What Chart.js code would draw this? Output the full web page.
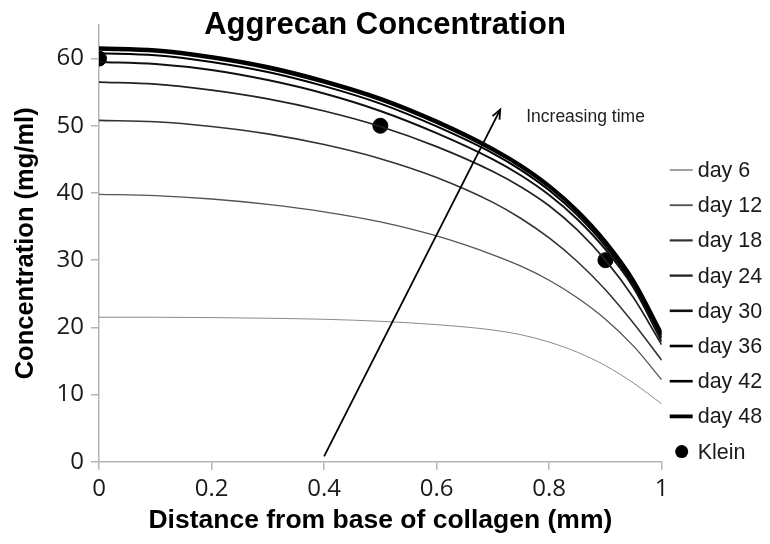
<!DOCTYPE html>
<html>
<head>
<meta charset="utf-8">
<script src="https://cdn.jsdelivr.net/npm/chart.js@4.4.1/dist/chart.umd.min.js"></script>
<style>
  html, body { margin: 0; padding: 0; background: #fff; }
  #wrap { width: 770px; height: 544px; }
</style>
</head>
<body>
<div id="wrap"><canvas id="myChart" width="770" height="544"></canvas></div>
<script>
// distance from base of collagen (mm)
const distance = [0, 0.1, 0.2, 0.3, 0.4, 0.5, 0.6, 0.7, 0.75, 0.8, 0.85, 0.9, 0.95, 1];

// concentration (mg/ml)
const day6  = [21.5, 21.5, 21.45, 21.35, 21.2, 20.9, 20.4, 19.6, 18.9, 17.8, 16.3, 14.3, 11.7, 8.6];
const day12 = [39.8, 39.6, 39.1, 38.3, 37.2, 35.7, 33.6, 30.8, 29.1, 27.0, 24.4, 21.2, 17.2, 12.2];
const day18 = [50.8, 50.6, 49.9, 48.8, 47.2, 45.1, 42.3, 38.6, 36.2, 33.3, 29.8, 25.6, 20.6, 15.1];
const day24 = [56.5, 56.2, 55.3, 54.0, 52.2, 49.9, 46.9, 43.2, 40.9, 38.1, 34.5, 30.0, 24.4, 17.4];
const day30 = [59.5, 59.2, 58.3, 56.8, 54.8, 52.2, 48.9, 45.0, 42.6, 39.7, 36.1, 31.6, 25.9, 17.9];
const day36 = [60.8, 60.5, 59.5, 58.0, 55.9, 53.3, 49.9, 45.9, 43.4, 40.4, 36.7, 32.1, 26.3, 18.4];
const day42 = [61.3, 61.0, 60.0, 58.5, 56.4, 53.8, 50.4, 46.3, 43.8, 40.8, 37.1, 32.5, 26.7, 18.8];
const day48 = [61.6, 61.3, 60.3, 58.8, 56.7, 54.1, 50.7, 46.6, 44.1, 41.1, 37.4, 32.8, 27.0, 19.1];

// Klein measurements
const kleinX = [0, 0.5, 0.9];
const kleinY = [60, 50, 30];

// arrow annotation (data units)
const arrowFrom = [0.4, 0.8];
const arrowTo = [0.713, 52.4];
const arrowText = "Increasing time";

function toPoints(xs, ys) {
    var pts = [];
    for (var i = 0; i < xs.length; i++) {
        pts.push({ x: xs[i], y: ys[i] });
    }
    return pts;
}

function curve(label, ys, color, width) {
    return {
        label: label,
        data: toPoints(distance, ys),
        borderColor: color,
        backgroundColor: color,
        borderWidth: width,
        pointRadius: 0,
        cubicInterpolationMode: "monotone",
        fill: false
    };
}

var datasets = [
    curve("day 6", day6, "#8a8a8a", 1),
    curve("day 12", day12, "#555555", 1.3),
    curve("day 18", day18, "#333333", 1.6),
    curve("day 24", day24, "#222222", 1.7),
    curve("day 30", day30, "#111111", 2),
    curve("day 36", day36, "#000000", 2),
    curve("day 42", day42, "#000000", 2),
    curve("day 48", day48, "#000000", 3.2),
    {
        label: "Klein",
        data: toPoints(kleinX, kleinY),
        showLine: false,
        pointRadius: 7.5,
        pointBackgroundColor: "#000",
        pointBorderColor: "#000",
        borderColor: "#000",
        backgroundColor: "#000"
    }
];

// arrow + side legend drawn on top
const extras = {
    id: "extras",
    afterDatasetsDraw(chart) {
        const ctx = chart.ctx;
        const xs = chart.scales.x, ys = chart.scales.y;
        var x0 = xs.getPixelForValue(arrowFrom[0]), y0 = ys.getPixelForValue(arrowFrom[1]);
        var x1 = xs.getPixelForValue(arrowTo[0]), y1 = ys.getPixelForValue(arrowTo[1]);
        ctx.save();
        ctx.strokeStyle = "#000";
        ctx.lineWidth = 1.8;
        ctx.beginPath();
        ctx.moveTo(x0, y0);
        ctx.lineTo(x1, y1);
        ctx.stroke();
        // head
        var a = Math.atan2(y1 - y0, x1 - x0);
        ctx.beginPath();
        ctx.moveTo(x1 - 10 * Math.cos(a - 0.4), y1 - 10 * Math.sin(a - 0.4));
        ctx.lineTo(x1, y1);
        ctx.lineTo(x1 - 10 * Math.cos(a + 0.4), y1 - 10 * Math.sin(a + 0.4));
        ctx.stroke();

        ctx.fillStyle = "#222";
        ctx.font = "17.5px 'Liberation Sans', Arial, sans-serif";
        ctx.textBaseline = "middle";
        ctx.textAlign = "left";
        ctx.fillText(arrowText, x1 + 26, y1 + 8);
        ctx.restore();
    },
    afterDraw(chart) {
        const ctx = chart.ctx;
        var left = chart.chartArea.right + 8;
        var top = 170, step = 35.2;
        ctx.save();
        ctx.font = "21.5px 'Liberation Sans', Arial, sans-serif";
        ctx.textBaseline = "middle";
        ctx.textAlign = "left";
        chart.data.datasets.forEach(function (ds, i) {
            var yy = top + i * step;
            if (ds.showLine === false) {
                ctx.fillStyle = "#000";
                ctx.beginPath();
                ctx.arc(left + 12, yy, 6.5, 0, Math.PI * 2);
                ctx.fill();
            } else {
                ctx.strokeStyle = ds.borderColor;
                ctx.lineWidth = ds.borderWidth + 0.6;
                ctx.beginPath();
                ctx.moveTo(left, yy);
                ctx.lineTo(left + 23, yy);
                ctx.stroke();
            }
            ctx.fillStyle = "#1a1a1a";
            ctx.fillText(ds.label, left + 28, yy + 1);
        });
        ctx.restore();
    }
};

var config = {
    type: "line",
    data: { datasets: datasets },
    options: {
        responsive: false,
        animation: false,
        layout: { padding: 0 },
        plugins: {
            legend: { display: false },
            tooltip: { enabled: false },
            title: {
                display: true,
                text: "Aggrecan Concentration",
                color: "#000",
                font: { family: "'Liberation Sans', Arial, sans-serif", size: 31, weight: "bold", lineHeight: 1.2 },
                padding: { top: 7, bottom: -19.2 }
            }
        },
        scales: {
            x: {
                type: "linear",
                min: 0,
                max: 1,
                ticks: {
                    stepSize: 0.2,
                    color: "#1a1a1a",
                    padding: 5,
                    maxRotation: 0,
                    font: { family: "'Open Sans', sans-serif", size: 24 },
                    callback: function (v) { return String(Number(v.toFixed(1))); }
                },
                grid: { drawOnChartArea: false, drawTicks: true, tickLength: 8, color: "#b5b5b5", lineWidth: 1.5 },
                border: { color: "#b5b5b5", width: 1.5 },
                title: {
                    display: true,
                    text: "Distance from base of collagen (mm)",
                    color: "#000",
                    font: { family: "'Liberation Sans', Arial, sans-serif", size: 26.5, weight: "bold", lineHeight: 1.2 },
                    padding: { top: 0, bottom: 7 }
                },
                afterFit: function (scale) { scale.height = 82.3; }
            },
            y: {
                min: 0,
                max: 65,
                ticks: {
                    stepSize: 10,
                    color: "#1a1a1a",
                    padding: 7,
                    font: { family: "'Open Sans', sans-serif", size: 24 }
                },
                afterBuildTicks: function (scale) {
                    scale.ticks = scale.ticks.filter(function (t) { return t.value % 10 === 0; });
                },
                grid: { drawOnChartArea: false, drawTicks: true, tickLength: 8, color: "#b5b5b5", lineWidth: 1.5 },
                border: { color: "#b5b5b5", width: 1.5 },
                title: {
                    display: true,
                    text: "Concentration (mg/ml)",
                    color: "#000",
                    font: { family: "'Liberation Sans', Arial, sans-serif", size: 25.5, weight: "bold", lineHeight: 1.2 },
                    padding: { top: 11, bottom: 0 }
                },
                afterFit: function (scale) { scale.width = 99; }
            },
            // empty right-hand space that holds the legend
            side: {
                position: "right",
                min: 0,
                max: 65,
                ticks: { display: false },
                grid: { display: false },
                border: { display: false },
                afterFit: function (scale) { scale.width = 108.3; }
            }
        }
    },
    plugins: [extras]
};

var myChart = new Chart(document.getElementById("myChart"), config);
</script>
</body>
</html>
